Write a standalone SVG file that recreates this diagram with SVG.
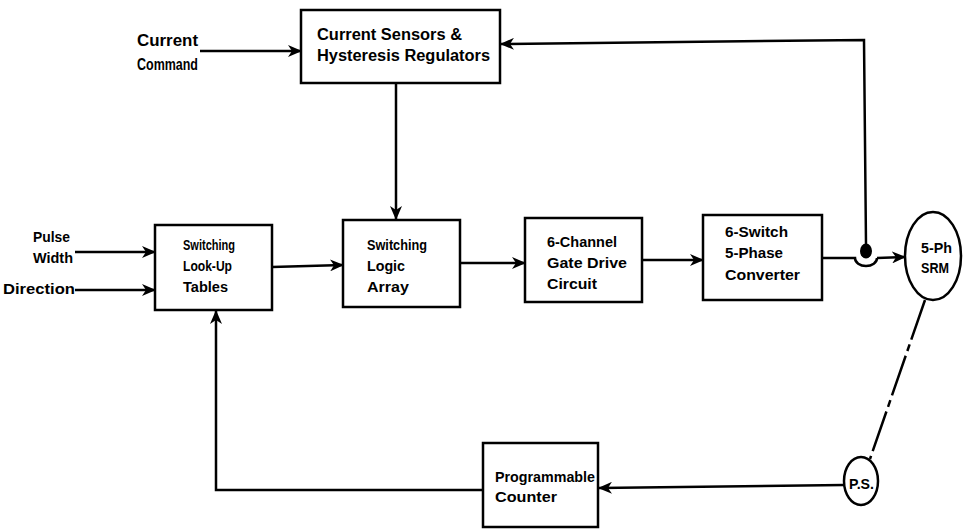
<svg xmlns="http://www.w3.org/2000/svg" width="963" height="529" viewBox="0 0 963 529">
<defs>
<style>
.box{fill:#fff;stroke:#000;stroke-width:2.5}
.ln{fill:none;stroke:#000;stroke-width:2.5}
.t{font-family:"Liberation Sans",Arial,sans-serif;font-weight:bold;font-size:15px;fill:#000}
.big{font-size:16px}
</style>
<marker id="ah" markerUnits="userSpaceOnUse" markerWidth="14" markerHeight="12" refX="13" refY="6" orient="auto">
<path d="M0,0 L14,6 L0,12 L4,6 z" fill="#000"/>
</marker>
</defs>
<rect width="963" height="529" fill="#fff"/>

<g id="connectors">
<line class="ln" x1="200" y1="51" x2="301" y2="51" marker-end="url(#ah)"/>
<polyline class="ln" points="866,244 864,40 501,44" marker-end="url(#ah)"/>
<line class="ln" x1="396" y1="83" x2="396" y2="219" marker-end="url(#ah)"/>
<line class="ln" x1="75" y1="252" x2="155" y2="252" marker-end="url(#ah)"/>
<line class="ln" x1="75" y1="290" x2="155" y2="290" marker-end="url(#ah)"/>
<line class="ln" x1="272" y1="267" x2="343" y2="265" marker-end="url(#ah)"/>
<line class="ln" x1="460" y1="263" x2="525" y2="263" marker-end="url(#ah)"/>
<line class="ln" x1="642" y1="260" x2="703" y2="260" marker-end="url(#ah)"/>
<path class="ln" d="M822,258 L855,258 A11,8 0 0 0 877,258"/>
<line class="ln" x1="877" y1="258" x2="905" y2="257" marker-end="url(#ah)"/>
<ellipse cx="866" cy="251" rx="6" ry="7.5" fill="#000"/>
<line class="ln" x1="925" y1="300" x2="870" y2="459" stroke-dasharray="42 5 7 5"/>
<line class="ln" x1="844" y1="485" x2="599" y2="488" marker-end="url(#ah)"/>
<polyline class="ln" points="483,490 216,490 216,311" marker-end="url(#ah)"/>
</g>

<g id="current-command">
<text class="t big" x="137" y="46" textLength="61" lengthAdjust="spacingAndGlyphs">Current</text>
<text class="t big" x="137" y="70" textLength="61" lengthAdjust="spacingAndGlyphs">Command</text>
</g>

<g id="pulse-width">
<text class="t" x="33" y="242" textLength="37" lengthAdjust="spacingAndGlyphs">Pulse</text>
<text class="t" x="33" y="263" textLength="40" lengthAdjust="spacingAndGlyphs">Width</text>
</g>

<g id="direction">
<text class="t" x="3" y="294" textLength="72" lengthAdjust="spacingAndGlyphs">Direction</text>
</g>

<g id="sensors">
<rect class="box" x="301" y="10" width="199" height="73"/>
<text class="t big" x="317" y="40" textLength="145" lengthAdjust="spacingAndGlyphs">Current Sensors &amp;</text>
<text class="t big" x="317" y="61" textLength="173" lengthAdjust="spacingAndGlyphs">Hysteresis Regulators</text>
</g>

<g id="lookup">
<rect class="box" x="155" y="225" width="117" height="85"/>
<text class="t" x="183" y="250" textLength="52" lengthAdjust="spacingAndGlyphs">Switching</text>
<text class="t" x="183" y="271" textLength="49" lengthAdjust="spacingAndGlyphs">Look-Up</text>
<text class="t" x="183" y="292" textLength="45" lengthAdjust="spacingAndGlyphs">Tables</text>
</g>

<g id="logic">
<rect class="box" x="343" y="220" width="117" height="87"/>
<text class="t" x="367" y="250" textLength="60" lengthAdjust="spacingAndGlyphs">Switching</text>
<text class="t" x="367" y="271" textLength="38" lengthAdjust="spacingAndGlyphs">Logic</text>
<text class="t" x="367" y="292" textLength="42" lengthAdjust="spacingAndGlyphs">Array</text>
</g>

<g id="gate-drive">
<rect class="box" x="525" y="218" width="117" height="84"/>
<text class="t" x="547" y="247" textLength="70" lengthAdjust="spacingAndGlyphs">6-Channel</text>
<text class="t" x="547" y="268" textLength="80" lengthAdjust="spacingAndGlyphs">Gate Drive</text>
<text class="t" x="547" y="289" textLength="50" lengthAdjust="spacingAndGlyphs">Circuit</text>
</g>

<g id="converter">
<rect class="box" x="703" y="215" width="119" height="85"/>
<text class="t" x="725" y="237" textLength="63" lengthAdjust="spacingAndGlyphs">6-Switch</text>
<text class="t" x="725" y="258" textLength="58" lengthAdjust="spacingAndGlyphs">5-Phase</text>
<text class="t" x="725" y="280" textLength="75" lengthAdjust="spacingAndGlyphs">Converter</text>
</g>

<g id="srm">
<ellipse class="box" cx="933" cy="256" rx="28" ry="44"/>
<text class="t" x="921" y="253" textLength="31" lengthAdjust="spacingAndGlyphs">5-Ph</text>
<text class="t" x="921" y="273" textLength="28" lengthAdjust="spacingAndGlyphs">SRM</text>
</g>

<g id="ps">
<ellipse class="box" cx="861" cy="481" rx="17" ry="24"/>
<text class="t" x="849" y="489" textLength="25" lengthAdjust="spacingAndGlyphs">P.S.</text>
</g>

<g id="counter">
<rect class="box" x="483" y="443" width="115" height="84"/>
<text class="t" x="495" y="482" textLength="100" lengthAdjust="spacingAndGlyphs">Programmable</text>
<text class="t" x="495" y="502" textLength="62" lengthAdjust="spacingAndGlyphs">Counter</text>
</g>
</svg>
